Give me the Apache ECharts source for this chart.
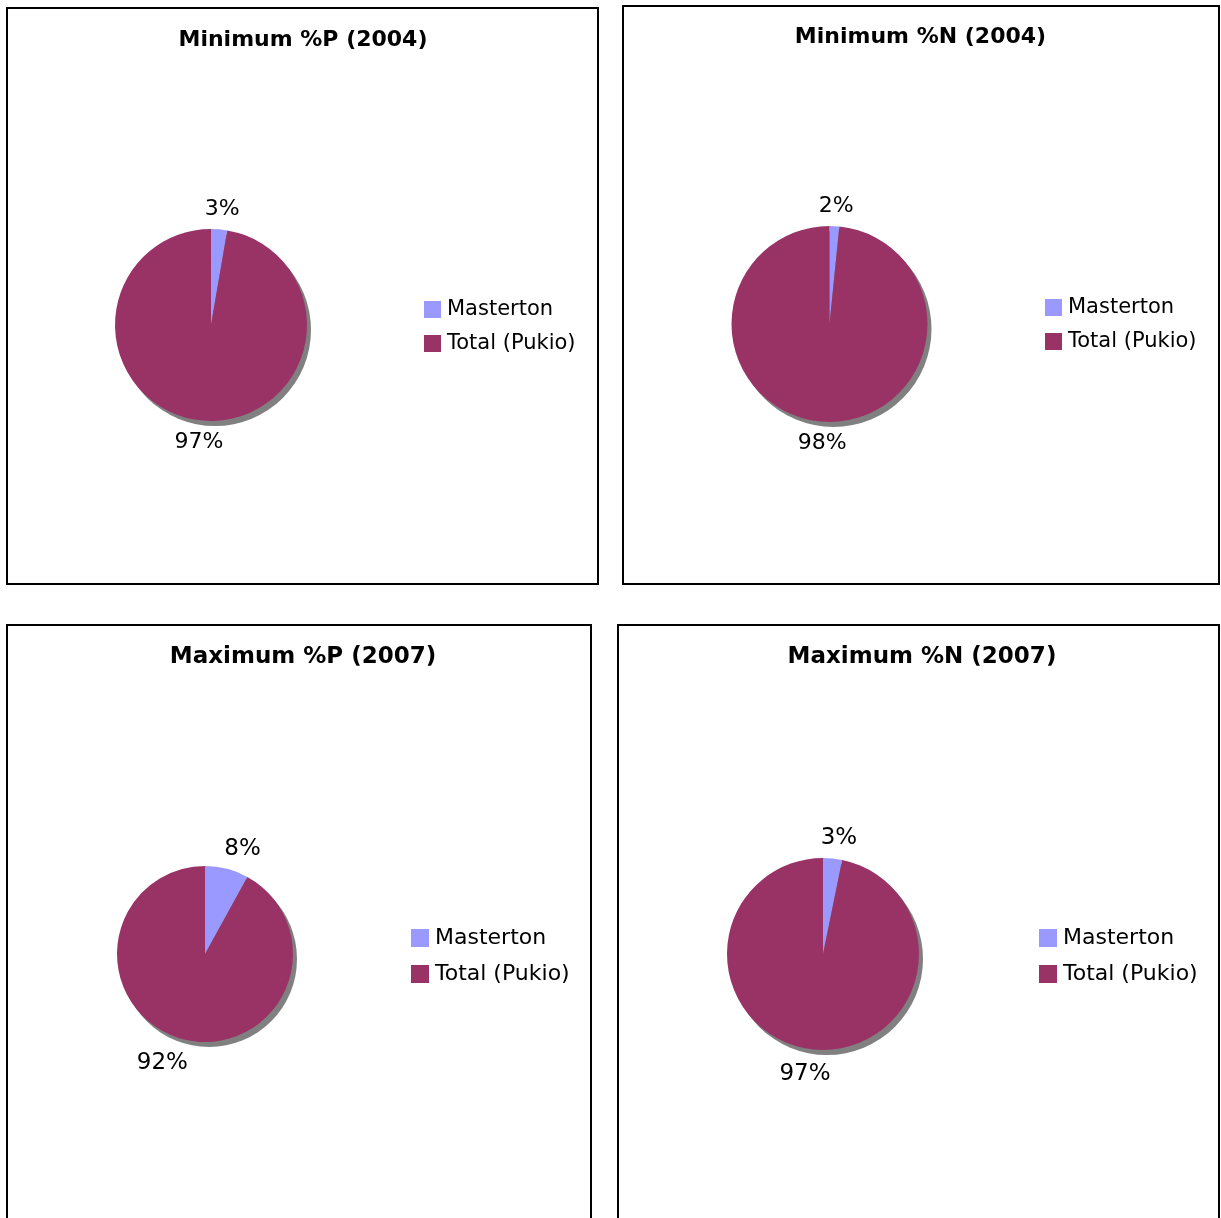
<!DOCTYPE html>
<html>
<head>
<meta charset="utf-8">
<script src="https://cdn.jsdelivr.net/npm/echarts@6/dist/echarts.min.js"></script>
<style>
  html, body { margin: 0; padding: 0; background: #fff; overflow: hidden; width: 1221px; height: 1218px; }
  .panel { position: absolute; box-sizing: border-box; border: 2px solid #000; background: #fff; }
  .panel > div { width: 100%; height: 100%; }
</style>
</head>
<body>
<script>
// ---- data ----
const categories = ['Masterton', 'Total (Pukio)'];
const titles = ['Minimum %P (2004)', 'Minimum %N (2004)', 'Maximum %P (2007)', 'Maximum %N (2007)'];
const minP2004 = [2.7, 97.3];
const minN2004 = [1.6, 98.4];
const maxP2007 = [8, 92];
const maxN2007 = [3.2, 96.8];
const colors = ['#9999FF', '#993366'];

// ---- layout (positions / sizes only) ----
const panels = [
  { values: minP2004, title: titles[0], box: [6, 7, 593, 578],   center: [203, 316], r: 96, legend: [416, 290], titleX: 295, titleY: 20, big: false },
  { values: minN2004, title: titles[1], box: [622, 5, 598, 580], center: [205.5, 317], r: 98, legend: [421, 290], titleX: 296.5, titleY: 19, big: false },
  { values: maxP2007, title: titles[2], box: [6, 624, 586, 640], center: [197, 328], r: 88, legend: [403, 301], titleX: 295, titleY: 20, big: true },
  { values: maxN2007, title: titles[3], box: [617, 624, 603, 640], center: [204, 328], r: 96, legend: [420, 301], titleX: 303, titleY: 20, big: true }
];

function makeLabelLayout(values, cx, cy, r, gap, spread, shiftY) {
  const total = values.reduce((a, b) => a + b, 0);
  return function (params) {
    const i = params.dataIndex;
    let start = 0;
    for (let j = 0; j < i; j++) start += values[j];
    const mid = (start + values[i] / 2) / total * Math.PI * 2;
    const d = r + gap;
    const s = Math.sin(mid), c = Math.cos(mid);
    const w = params.labelRect.width, h = params.labelRect.height * 0.9;
    return {
      x: cx + d * s + s * w * spread,
      y: cy - d * c - c * h / 2 + shiftY,
      align: 'center',
      verticalAlign: 'middle'
    };
  };
}

panels.forEach(function (p) {
  const outer = document.createElement('div');
  outer.className = 'panel';
  outer.style.left = p.box[0] + 'px';
  outer.style.top = p.box[1] + 'px';
  outer.style.width = p.box[2] + 'px';
  outer.style.height = p.box[3] + 'px';
  const inner = document.createElement('div');
  outer.appendChild(inner);
  document.body.appendChild(outer);

  const titleSize = p.big ? 23 : 22;
  const labelSize = p.big ? 23 : 22;
  const legendSize = p.big ? 22 : 21;
  const icon = p.big ? 18 : 17;
  const gap = p.big ? 14 : 13;
  const labelGap = p.big ? 12 : 11;
  const spread = p.big ? 1.4 : 0.7;
  const shiftY = p.big ? 2 : 1;

  const chart = echarts.init(inner, null, { renderer: 'canvas' });
  chart.setOption({
    animation: false,
    backgroundColor: '#fff',
    title: {
      text: p.title,
      left: p.titleX,
      top: p.titleY,
      textAlign: 'center',
      padding: 0,
      textStyle: { fontFamily: 'DejaVu Sans', fontWeight: 'bold', fontSize: titleSize, color: '#000' }
    },
    legend: {
      data: categories,
      orient: 'vertical',
      left: p.legend[0],
      top: p.legend[1],
      padding: 0,
      itemWidth: icon,
      itemHeight: icon,
      itemGap: gap,
      itemStyle: { borderWidth: 0 },
      icon: 'rect',
      selectedMode: false,
      textStyle: { fontFamily: 'DejaVu Sans', fontSize: legendSize, color: '#000', padding: [0, 0, 0, 1] }
    },
    series: [
      {
        type: 'pie',
        silent: true,
        center: [p.center[0] + 4, p.center[1] + 5],
        radius: p.r,
        label: { show: false },
        labelLine: { show: false },
        itemStyle: { color: '#808080' },
        data: [{ name: 'shadow', value: 1 }],
        z: 1
      },
      {
        type: 'pie',
        center: p.center,
        radius: p.r,
        startAngle: 90,
        clockwise: true,
        avoidLabelOverlap: false,
        z: 2,
        label: {
          show: true,
          position: 'outside',
          formatter: function (d) { return Math.round(d.percent) + '%'; },
          fontFamily: 'DejaVu Sans',
          fontSize: labelSize,
          color: '#000'
        },
        labelLine: { show: false, length: 0, length2: 0 },
        labelLayout: makeLabelLayout(p.values, p.center[0], p.center[1], p.r, labelGap, spread, shiftY),
        emphasis: { disabled: true },
        data: categories.map(function (name, i) {
          return { name: name, value: p.values[i], itemStyle: { color: colors[i] } };
        })
      }
    ]
  });
});
</script>
</body>
</html>
